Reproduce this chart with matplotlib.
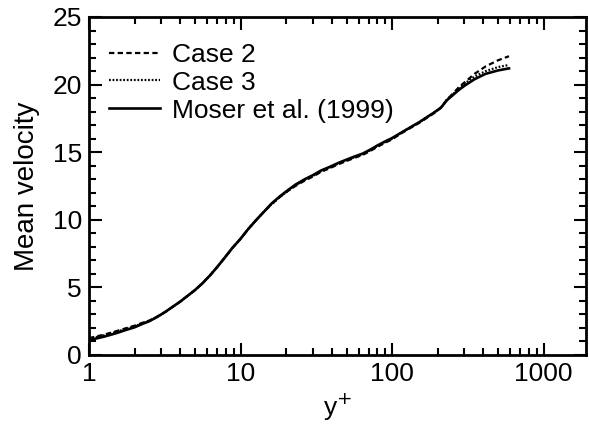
import matplotlib
matplotlib.use("Agg")
import matplotlib.pyplot as plt
import numpy as np
from matplotlib.ticker import FixedLocator, LogLocator, MultipleLocator, NullFormatter

# values
y_plus = [1.0, 1.25, 1.5, 1.75, 2.0, 2.25, 2.5, 2.8, 3.2, 3.6, 4.0, 4.5, 5.0,
          5.6, 6.3, 7.0, 7.8, 8.8, 10.0, 11.2, 12.6, 14.0, 16.0, 18.0, 20.0,
          23.0, 26.5, 30.0, 34.0, 38.5, 44.0, 50.0, 57.0, 64.0, 72.0, 80.0,
          90.0, 100.0, 115.0, 130.0, 150.0, 170.0, 190.0, 210.0, 230.0, 250.0,
          275.0, 303.0, 350.0, 414.0, 500.0, 590.0]
u_moser = [1.1, 1.35, 1.6, 1.85, 2.05, 2.3, 2.5, 2.8, 3.2, 3.6, 3.95, 4.4, 4.8,
           5.3, 5.9, 6.5, 7.15, 7.9, 8.6, 9.3, 9.95, 10.5, 11.2, 11.7, 12.1,
           12.6, 13.0, 13.3, 13.65, 13.9, 14.2, 14.45, 14.7, 14.9, 15.2, 15.5,
           15.8, 16.05, 16.45, 16.8, 17.2, 17.6, 17.95, 18.3, 18.85, 19.2,
           19.6, 19.95, 20.4, 20.8, 21.05, 21.2]
u_case2 = [1.25, 1.5, 1.75, 1.98, 2.17, 2.38, 2.55, 2.82, 3.2, 3.6, 3.95, 4.4, 4.8,
           5.3, 5.9, 6.5, 7.15, 7.9, 8.6, 9.3, 9.95, 10.5, 11.15, 11.65, 12.05,
           12.5, 12.9, 13.2, 13.55, 13.8, 14.1, 14.35, 14.6, 14.8, 15.1, 15.4,
           15.7, 15.95, 16.4, 16.75, 17.15, 17.55, 17.9, 18.3, 18.9, 19.3,
           19.8, 20.2, 20.8, 21.35, 21.8, 22.1]
u_case3 = [1.2, 1.45, 1.7, 1.93, 2.12, 2.35, 2.52, 2.8, 3.2, 3.6, 3.95, 4.4, 4.8,
           5.3, 5.9, 6.5, 7.15, 7.9, 8.6, 9.3, 9.95, 10.5, 11.15, 11.65, 12.05,
           12.55, 12.95, 13.25, 13.6, 13.85, 14.15, 14.4, 14.65, 14.85, 15.15, 15.45,
           15.75, 16.0, 16.45, 16.8, 17.2, 17.6, 17.95, 18.3, 18.9, 19.25,
           19.7, 20.1, 20.6, 21.0, 21.3, 21.45]

labels = ["Case 2", "Case 3", "Moser et al. (1999)"]
x_ticks = [1, 10, 100, 1000]
y_ticks = [0, 5, 10, 15, 20, 25]

plt.rcParams["font.family"] = ["Liberation Sans", "DejaVu Sans"]
plt.rcParams["font.size"] = 19

fig = plt.figure(figsize=(5.89, 4.25), dpi=100)
ax = fig.add_axes([89 / 589, 1 - 355 / 425, 497 / 589, 338 / 425])

ax.plot(y_plus, u_case2, color="black", linestyle=(0, (2.4, 1.5)), linewidth=1.6, label=labels[0])
ax.plot(y_plus, u_case3, color="black", linestyle=(0, (0.8, 0.8)), linewidth=1.6, label=labels[1])
ax.plot(y_plus, u_moser, color="black", linestyle="-", linewidth=1.9, label=labels[2])

ax.set_xscale("log")
ax.set_xlim(1, 1900)
ax.set_ylim(0, 25)
ax.xaxis.set_major_locator(FixedLocator(x_ticks))
ax.set_xticklabels([str(t) for t in x_ticks])
ax.xaxis.set_minor_locator(LogLocator(base=10, subs=np.arange(2, 10)))
ax.xaxis.set_minor_formatter(NullFormatter())
ax.yaxis.set_major_locator(FixedLocator(y_ticks))
ax.yaxis.set_minor_locator(MultipleLocator(1))

ax.tick_params(which="both", direction="in", top=True, right=True, width=1.5)
ax.tick_params(which="major", length=9, pad=5)
ax.tick_params(which="minor", length=5)
for spine in ax.spines.values():
    spine.set_linewidth(2)

ax.set_xlabel("y$^{+}$", labelpad=4)
ax.set_ylabel("Mean velocity", fontsize=20, labelpad=9)

ax.legend(loc="upper left", frameon=False, handlelength=1.9, handletextpad=0.45,
          labelspacing=0.15, borderaxespad=0.0, bbox_to_anchor=(0.02, 0.955), fontsize=19)

fig.savefig("out.png", dpi=100)
